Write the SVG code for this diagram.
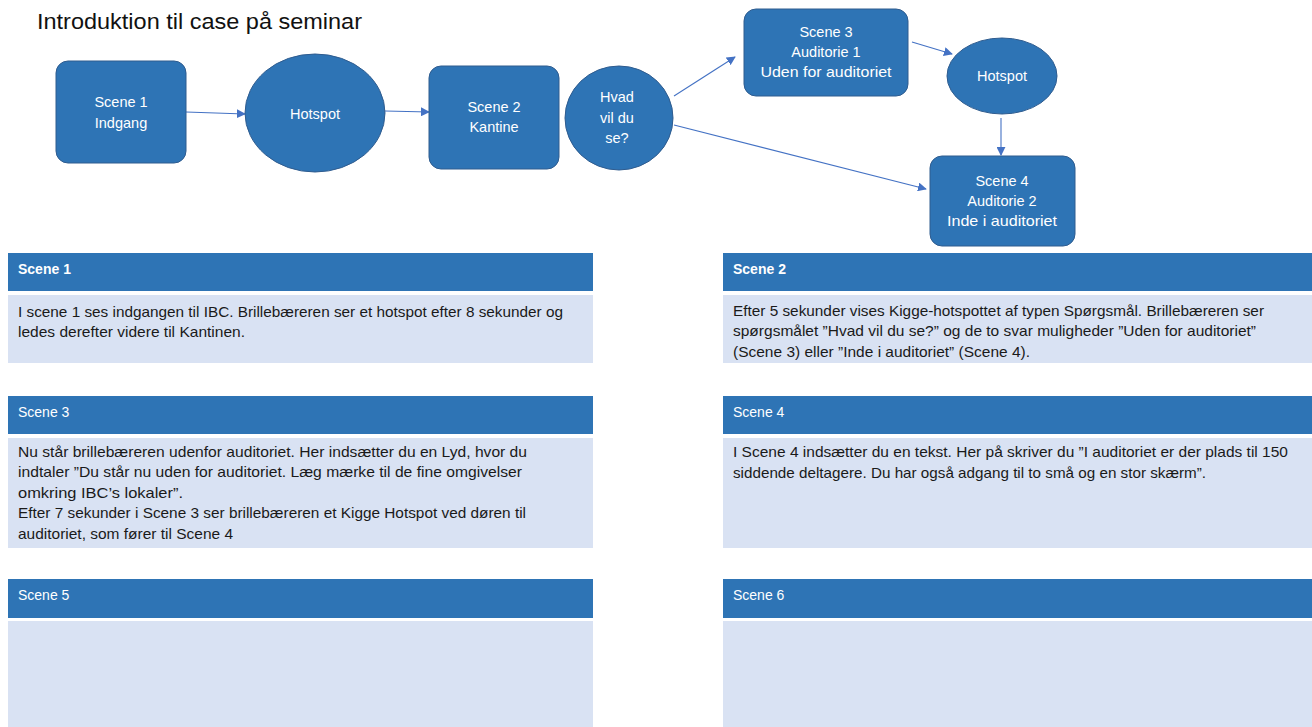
<svg xmlns="http://www.w3.org/2000/svg" width="1312" height="727" viewBox="0 0 1312 727">
<defs>
<style>
.node{fill:#2E74B5;stroke:#2F5C8F;stroke-width:1}
.nt{font-family:"Liberation Sans",Arial,sans-serif;font-size:14.5px;fill:#ffffff;text-anchor:middle}
.conn{stroke:#4472C4;stroke-width:1.1;fill:none;marker-end:url(#arr)}
.hdr{fill:#2E74B5}
.body{fill:#D9E2F3}
.ht{font-family:"Liberation Sans",Arial,sans-serif;font-size:14px;fill:#ffffff}
.bt{font-family:"Liberation Sans",Arial,sans-serif;font-size:15px;fill:#1a1a1a}
</style>
<marker id="arr" viewBox="0 0 10 10" refX="9" refY="5" markerWidth="9" markerHeight="9" markerUnits="userSpaceOnUse" orient="auto">
<path d="M0,0 L10,5 L0,10 z" fill="#4472C4"/>
</marker>
</defs>
<rect width="1312" height="727" fill="#ffffff"/>
<text x="37" y="29" font-family="Liberation Sans,Arial,sans-serif" font-size="22" fill="#111" textLength="325" lengthAdjust="spacingAndGlyphs">Introduktion til case på seminar</text>

<g id="connectors">
<line class="conn" x1="186" y1="112" x2="245" y2="114"/>
<line class="conn" x1="385" y1="111" x2="429" y2="112"/>
<line class="conn" x1="674" y1="96" x2="735" y2="57"/>
<line class="conn" x1="674" y1="125" x2="926" y2="189"/>
<line class="conn" x1="912" y1="42" x2="952" y2="54"/>
<line class="conn" x1="1001" y1="118" x2="1001" y2="155"/>
</g>

<g id="scene1"><rect class="node" x="56" y="61" width="130" height="102" rx="12"/>
<text class="nt" x="121" y="107">Scene 1</text><text class="nt" x="121" y="128">Indgang</text></g>
<g id="hotspot1"><ellipse class="node" cx="315" cy="113" rx="70" ry="59"/>
<text class="nt" x="315" y="119">Hotspot</text></g>
<g id="scene2"><rect class="node" x="429" y="66" width="130" height="103" rx="12"/>
<text class="nt" x="494" y="112">Scene 2</text><text class="nt" x="494" y="132">Kantine</text></g>
<g id="question"><ellipse class="node" cx="619" cy="118" rx="54" ry="52"/>
<text class="nt" x="617" y="102">Hvad</text><text class="nt" x="617" y="123">vil du</text><text class="nt" x="617" y="143">se?</text></g>
<g id="scene3"><rect class="node" x="744" y="9" width="164" height="87" rx="12"/>
<text class="nt" x="826" y="37">Scene 3</text><text class="nt" x="826" y="57">Auditorie 1</text><text class="nt" x="826" y="77" textLength="131" lengthAdjust="spacingAndGlyphs">Uden for auditoriet</text></g>
<g id="hotspot2"><ellipse class="node" cx="1002" cy="76" rx="55" ry="38"/>
<text class="nt" x="1002" y="81">Hotspot</text></g>
<g id="scene4"><rect class="node" x="930" y="156" width="145" height="90" rx="12"/>
<text class="nt" x="1002" y="186">Scene 4</text><text class="nt" x="1002" y="206">Auditorie 2</text><text class="nt" x="1002" y="226" textLength="110" lengthAdjust="spacingAndGlyphs">Inde i auditoriet</text></g>

<g id="table1">
<rect class="hdr" x="8" y="253" width="585" height="38"/>
<rect class="body" x="8" y="295" width="585" height="68"/>
<text class="ht" x="18" y="274" font-weight="bold">Scene 1</text>
<text class="bt" x="18" y="317" textLength="545" lengthAdjust="spacingAndGlyphs">I scene 1 ses indgangen til IBC. Brillebæreren ser et hotspot efter 8 sekunder og</text>
<text class="bt" x="18" y="337" textLength="227" lengthAdjust="spacingAndGlyphs">ledes derefter videre til Kantinen.</text>
</g>
<g id="table2">
<rect class="hdr" x="723" y="253" width="589" height="38"/>
<rect class="body" x="723" y="295" width="589" height="68"/>
<text class="ht" x="733" y="274" font-weight="bold">Scene 2</text>
<text class="bt" x="733" y="316" textLength="531" lengthAdjust="spacingAndGlyphs">Efter 5 sekunder vises Kigge-hotspottet af typen Spørgsmål.  Brillebæreren ser</text>
<text class="bt" x="733" y="336" textLength="523" lengthAdjust="spacingAndGlyphs">spørgsmålet ”Hvad vil du se?” og de to svar muligheder ”Uden for auditoriet”</text>
<text class="bt" x="733" y="357" textLength="297" lengthAdjust="spacingAndGlyphs">(Scene 3) eller ”Inde i auditoriet” (Scene 4).</text>
</g>
<g id="table3">
<rect class="hdr" x="8" y="396" width="585" height="38"/>
<rect class="body" x="8" y="438" width="585" height="110"/>
<text class="ht" x="18" y="417">Scene 3</text>
<text class="bt" x="18" y="457" textLength="509" lengthAdjust="spacingAndGlyphs">Nu står brillebæreren  udenfor auditoriet. Her indsætter du en Lyd, hvor du</text>
<text class="bt" x="18" y="477" textLength="504" lengthAdjust="spacingAndGlyphs">indtaler ”Du står nu uden for auditoriet. Læg mærke til de fine omgivelser</text>
<text class="bt" x="18" y="498" textLength="165" lengthAdjust="spacingAndGlyphs">omkring IBC’s lokaler”.</text>
<text class="bt" x="18" y="518" textLength="508" lengthAdjust="spacingAndGlyphs">Efter 7 sekunder i Scene 3 ser brillebæreren et Kigge Hotspot ved døren til</text>
<text class="bt" x="18" y="539" textLength="215" lengthAdjust="spacingAndGlyphs">auditoriet, som fører til Scene 4</text>
</g>
<g id="table4">
<rect class="hdr" x="723" y="396" width="589" height="38"/>
<rect class="body" x="723" y="438" width="589" height="110"/>
<text class="ht" x="733" y="417">Scene 4</text>
<text class="bt" x="733" y="457" textLength="555" lengthAdjust="spacingAndGlyphs">I Scene 4 indsætter du en tekst. Her på skriver du ”I auditoriet er der plads til 150</text>
<text class="bt" x="733" y="478" textLength="473" lengthAdjust="spacingAndGlyphs">siddende deltagere. Du har også adgang til to små og en stor skærm”.</text>
</g>
<g id="table5">
<rect class="hdr" x="8" y="579" width="585" height="39"/>
<rect class="body" x="8" y="621" width="585" height="106"/>
<text class="ht" x="18" y="600">Scene 5</text>
</g>
<g id="table6">
<rect class="hdr" x="723" y="579" width="589" height="39"/>
<rect class="body" x="723" y="621" width="589" height="106"/>
<text class="ht" x="733" y="600">Scene 6</text>
</g>
</svg>
